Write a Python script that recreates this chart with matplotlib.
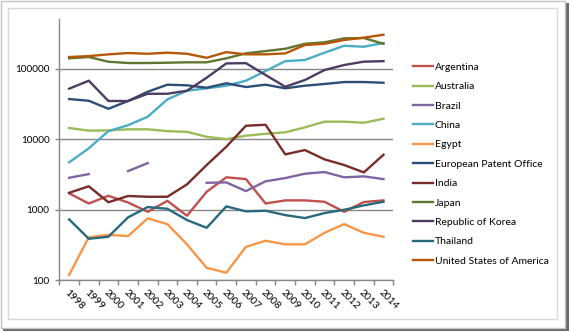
import matplotlib
matplotlib.use('Agg')
import matplotlib.pyplot as plt
from matplotlib.patches import Rectangle
import numpy as np

nan = np.nan
years = [str(y) for y in range(1998, 2015)]
series_names = ["Argentina", "Australia", "Brazil", "China", "Egypt",
                "European Patent Office", "India", "Japan",
                "Republic of Korea", "Thailand", "United States of America"]

argentina = [1700, 1220, 1570, 1260, 930, 1330, 817, 1790, 2870, 2710, 1220, 1350, 1350, 1290, 930, 1280, 1350]
australia = [14400, 13200, 13300, 13800, 13800, 13000, 12700, 10800, 10000, 11200, 11900, 12500, 14700, 17700, 17700, 17100, 19500]
brazil = [2830, 3190, nan, 3520, 4570, nan, nan, 2400, 2430, 1830, 2520, 2800, 3230, 3410, 2870, 2960, 2710]
china = [4680, 7400, 13000, 15800, 20800, 36700, 48700, 52700, 57300, 67600, 92700, 128000, 133000, 169000, 212000, 205000, 232000]
egypt = [118, 403, 438, 420, 750, 622, 321, 149, 127, 296, 361, 321, 321, 468, 622, 468, 411]
epo = [37100, 35100, 27000, 34800, 47100, 59300, 58100, 53700, 62100, 55000, 59300, 52700, 57400, 60700, 64700, 64700, 63200]
india = [1730, 2140, 1270, 1560, 1520, 1520, 2280, 4290, 7800, 15500, 16000, 6080, 7000, 5160, 4290, 3370, 6000]
japan = [140500, 146600, 125700, 120500, 120500, 121700, 123300, 123300, 140500, 165500, 178000, 192000, 226000, 237000, 270000, 273000, 226000]
korea = [52000, 67600, 34800, 34800, 44100, 44100, 48700, 74500, 119000, 120000, 81400, 55500, 69100, 95800, 113000, 126000, 128000]
thailand = [726, 385, 411, 775, 1086, 1027, 710, 551, 1110, 942, 962, 835, 757, 892, 994, 1147, 1291]
usa = [146600, 151000, 160000, 167000, 163000, 169000, 163000, 143000, 172000, 160000, 160000, 165000, 217000, 226000, 256000, 276000, 304000]

all_series = [argentina, australia, brazil, china, egypt, epo, india, japan, korea, thailand, usa]
colors = ["#C0504D", "#9BBB59", "#8064A2", "#4BACC6", "#F79646", "#2C4D75",
          "#772C2A", "#5F7530", "#4D3B62", "#276A7C", "#B65708"]

yticks = [100, 1000, 10000, 100000]
ytick_labels = ["100", "1000", "10000", "100000"]

W, H = 570, 332
plt.rcParams['font.family'] = ['Lato', 'DejaVu Sans']
fig = plt.figure(figsize=(W / 100, H / 100), dpi=100)


def rect(x0, y0, x1, y1, **kw):
    return Rectangle((x0 / W, 1 - y1 / H), (x1 - x0) / W, (y1 - y0) / H,
                     transform=fig.transFigure, **kw)


fig.add_artist(rect(3, 3, 568.5, 331, facecolor="#6a6a6a", edgecolor="none", zorder=-3))
fig.add_artist(rect(0.5, 0.5, 565, 328, facecolor="white", edgecolor="#c4c4c4", lw=1, zorder=-2))
fig.add_artist(rect(8, 8, 557, 319, facecolor="none", edgecolor="#d9d9d9", lw=1, zorder=-1))

ax = fig.add_axes([59.3 / W, (H - 280) / H, (393.3 - 59.3) / W, (280 - 19) / H])
ax.set_facecolor("none")
x = np.arange(len(years))
for name, vals, c in zip(series_names, all_series, colors):
    ax.plot(x, vals, color=c, lw=1.7, label=name, solid_joinstyle='round')

ax.set_yscale('log')
ax.set_ylim(100, 10 ** 5.706)
ax.set_xlim(-0.5, len(years) - 0.5)
ax.set_yticks(yticks)
ax.set_yticklabels(ytick_labels)
ax.yaxis.set_minor_locator(matplotlib.ticker.NullLocator())
ax.grid(axis='y', which='major', color='#878787', lw=1)
ax.set_axisbelow(True)

ax.set_xticks(np.arange(-0.5, len(years), 1))
ax.set_xticklabels([])
ax.set_xticks(x, minor=True)
ax.set_xticklabels(years, minor=True, rotation=-45, ha='left', va='top', rotation_mode='anchor')
ax.tick_params(axis='x', which='major', length=3.6, color='#878787', width=1)
ax.tick_params(axis='x', which='minor', length=0, pad=6, labelsize=7.4)
ax.tick_params(axis='y', which='major', length=3, color='#878787', width=1, pad=4, labelsize=7.2)

for s in ['top', 'right']:
    ax.spines[s].set_visible(False)
for s in ['left', 'bottom']:
    ax.spines[s].set_color('#878787')
    ax.spines[s].set_linewidth(1)

fig.legend(loc='upper left', bbox_to_anchor=(413.3 / W, (H - 62.5) / H), frameon=False,
           fontsize=7.5, handlelength=1.92, handletextpad=0.15, labelspacing=0.97,
           borderpad=0, borderaxespad=0)

fig.savefig("out.png", dpi=100)
